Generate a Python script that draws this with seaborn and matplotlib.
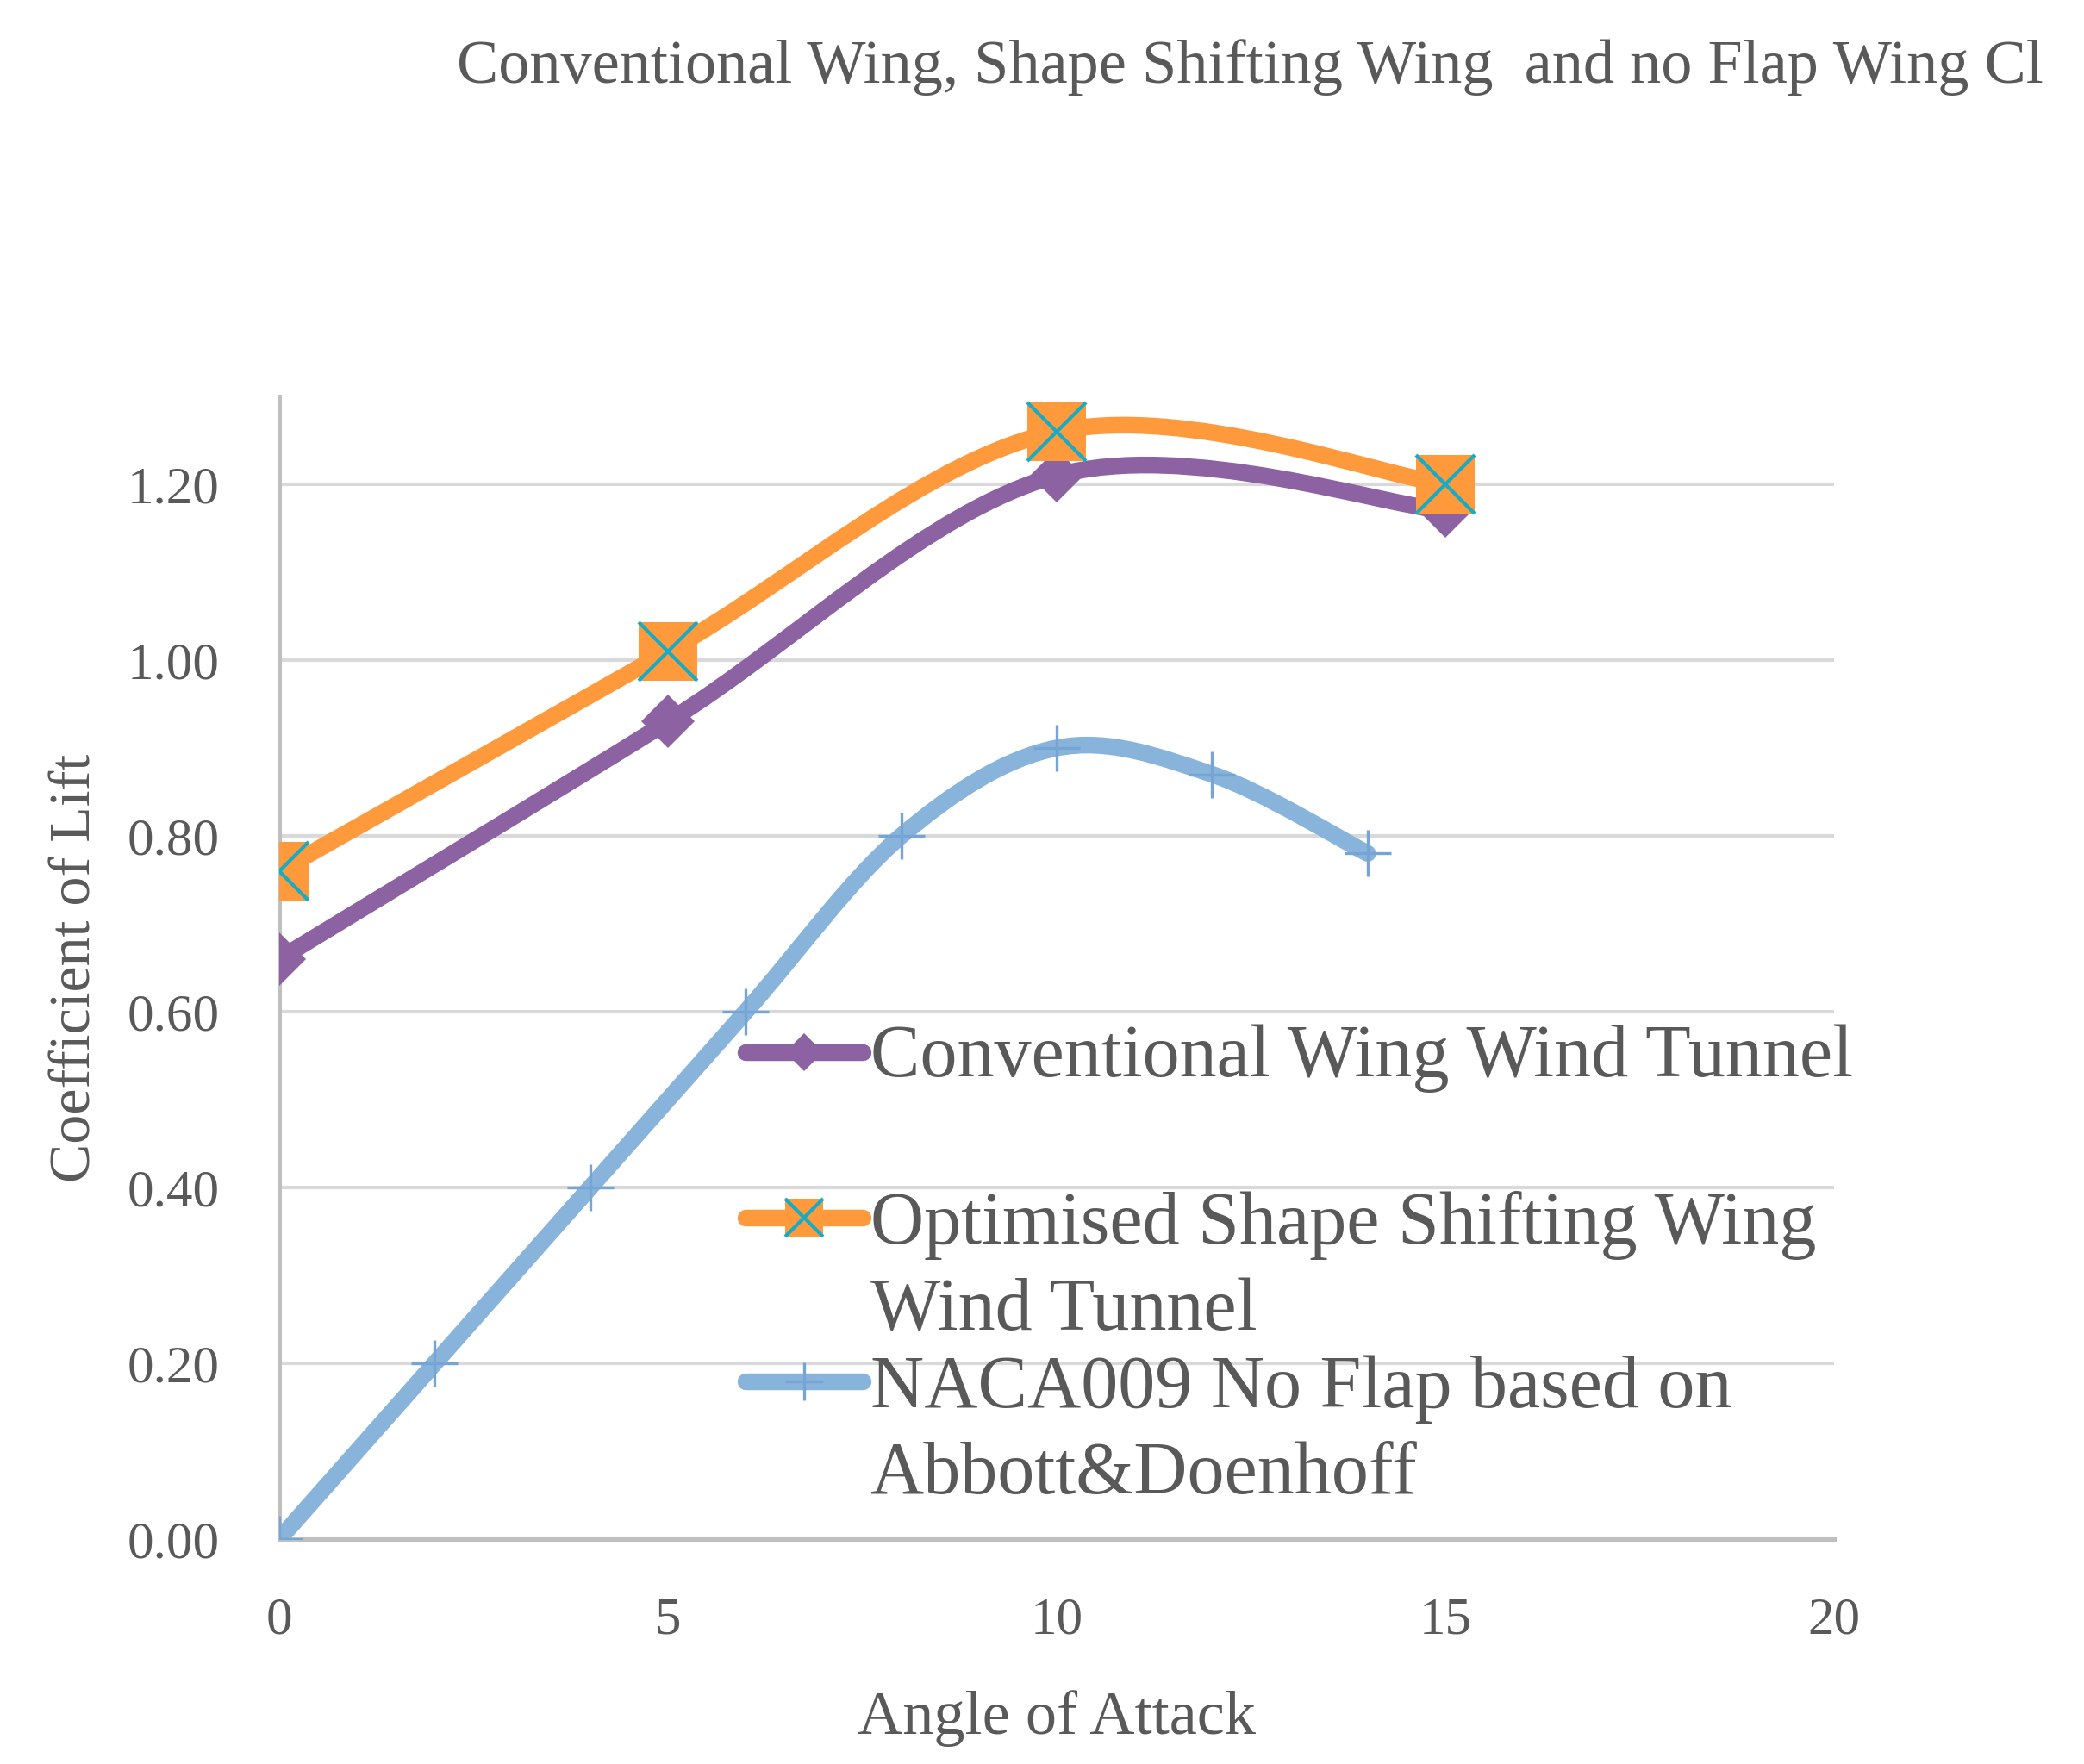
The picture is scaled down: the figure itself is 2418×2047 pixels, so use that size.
import numpy as np
import matplotlib.pyplot as plt
from matplotlib.path import Path
from matplotlib.patches import PathPatch
from matplotlib.lines import Line2D
import seaborn as sns

# data
aoa_wt = [0, 5, 10, 15]
cl_conventional = [0.66, 0.93, 1.21, 1.17]
cl_shape_shift = [0.76, 1.01, 1.26, 1.20]
aoa_naca = [0, 2, 4, 6, 8, 10, 12, 14]
cl_naca = [0.00, 0.20, 0.40, 0.60, 0.80, 0.90, 0.87, 0.78]

labels = ["Conventional Wing Wind Tunnel",
          "Optimised Shape Shifting Wing\nWind Tunnel",
          "NACA009 No Flap based on\nAbbott&Doenhoff"]
title = "Conventional Wing, Shape Shifting Wing  and no Flap Wing Cl"
x_ticks = [0, 5, 10, 15, 20]
y_ticks = [0.0, 0.2, 0.4, 0.6, 0.8, 1.0, 1.2]

purple = '#8C62A3'
orange = '#FF9A3C'
cyan = '#17ACC6'
blue = '#88B4DC'
blue_mk = '#76A5D5'
txt = '#595959'

sns.set_theme(style='white')
plt.rcParams['font.family'] = ['Liberation Serif', 'DejaVu Serif']

lw = 7


def smooth_path(x, y):
    # excel style smoothed line: cubic bezier through the points
    pts = np.column_stack([x, y]).astype(float)
    n = len(pts)
    verts = [pts[0]]
    codes = [Path.MOVETO]
    for i in range(n - 1):
        p0 = pts[i - 1] if i > 0 else pts[i]
        p1 = pts[i]
        p2 = pts[i + 1]
        p3 = pts[i + 2] if i + 2 < n else pts[i + 1]
        verts += [p1 + (p2 - p0) / 6, p2 - (p3 - p1) / 6, p2]
        codes += [Path.CURVE4] * 3
    return Path(verts, codes)


fig = plt.figure(figsize=(12.09, 10.235), dpi=200, facecolor='w')
ax = fig.add_axes([0.134, 0.1275, 0.7461, 0.6478])

# Conventional wing
ax.add_patch(PathPatch(smooth_path(aoa_wt, cl_conventional), fill=False,
                       edgecolor=purple, lw=lw, capstyle='round', zorder=3))
sns.lineplot(x=aoa_wt, y=cl_conventional, ax=ax, linestyle='', marker='D',
             markersize=16, color=purple, markeredgewidth=0, zorder=4)

# Shape shifting wing
ax.add_patch(PathPatch(smooth_path(aoa_wt, cl_shape_shift), fill=False,
                       edgecolor=orange, lw=lw, capstyle='round', zorder=5))
sns.lineplot(x=aoa_wt, y=cl_shape_shift, ax=ax, linestyle='', marker='s',
             markersize=24.5, color=orange, markeredgewidth=0, zorder=6)
sns.lineplot(x=aoa_wt, y=cl_shape_shift, ax=ax, linestyle='', marker='x',
             markersize=24.5, color=cyan, markeredgecolor=cyan,
             markeredgewidth=1.5, zorder=7)

# NACA009
ax.add_patch(PathPatch(smooth_path(aoa_naca, cl_naca), fill=False,
                       edgecolor=blue, lw=lw, capstyle='round', zorder=8))
sns.lineplot(x=aoa_naca, y=cl_naca, ax=ax, linestyle='', marker='+',
             markersize=19.5, color=blue_mk, markeredgecolor=blue_mk,
             markeredgewidth=1.2, zorder=9)

ax.set_xlim(0, 20)
ax.set_ylim(0, 1.3)
ax.set_xticks(x_ticks)
ax.set_yticks(y_ticks)
ax.set_yticklabels([f"{v:.2f}" for v in y_ticks])
ax.grid(axis='y', color='#D9D9D9', lw=1.5)
ax.grid(axis='x', visible=False)
ax.set_axisbelow(True)
for s in ['top', 'right']:
    ax.spines[s].set_visible(False)
for s in ['left', 'bottom']:
    ax.spines[s].set_color('#BFBFBF')
    ax.spines[s].set_linewidth(1.8)
ax.tick_params(axis='both', length=0, labelsize=22, labelcolor=txt)
ax.tick_params(axis='y', pad=25)
ax.tick_params(axis='x', pad=24)

ax.set_xlabel("Angle of Attack", fontsize=26, color=txt)
ax.set_ylabel("Coefficient of Lift", fontsize=24.5, color=txt)
ax.xaxis.set_label_coords(0.5, -0.132)
ax.yaxis.set_label_coords(-0.114, 0.5)

fig.text(0.600, 0.953, title, ha='center', va='baseline', fontsize=26, color=txt)

# legend drawn by hand so the handle sits on the first text line
hx = [0.300, 0.3375, 0.375]
hy = [0.426, 0.281, 0.138]
line_step = 0.077
leg_style = [
    [dict(color=purple, marker='D', markersize=11, markeredgewidth=0)],
    [dict(color=orange, marker='s', markersize=16, markeredgewidth=0),
     dict(color=cyan, marker='x', markersize=16, markeredgewidth=1.5,
          markeredgecolor=cyan, lw=0)],
    [dict(color=blue, marker='+', markersize=16, markeredgewidth=1.2,
          markeredgecolor=blue_mk)],
]
for y, lab, styles in zip(hy, labels, leg_style):
    for k, st in enumerate(styles):
        st = dict(st)
        st.setdefault('lw', lw)
        ln = Line2D(hx, [y, y, y], transform=ax.transAxes, clip_on=False,
                    solid_capstyle='round', markevery=[1], zorder=10 + k, **st)
        ax.add_line(ln)
    n_extra = lab.count('\n')
    ax.text(0.380, y - 0.021 - n_extra * line_step, lab, transform=ax.transAxes,
            ha='left', va='baseline', fontsize=31, color=txt,
            linespacing=1.34, clip_on=False)

fig.savefig('out.png', dpi=200, facecolor='w')
